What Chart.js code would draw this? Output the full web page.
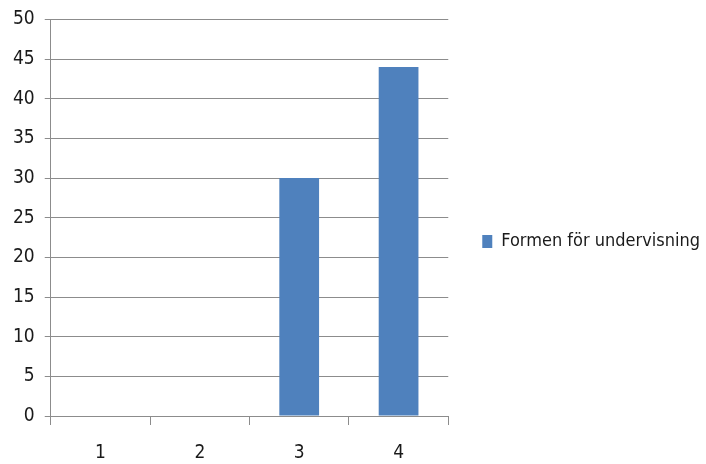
<!DOCTYPE html>
<html>
<head>
<meta charset="utf-8">
<script src="https://cdn.jsdelivr.net/npm/chart.js@4"></script>
<style>
  body { margin: 0; background: #fff; }
  #wrap { width: 706px; height: 464px; }
</style>
</head>
<body>
<div id="wrap"><canvas id="grafico" width="706" height="464"></canvas></div>
<script>
const kategorier = ['1', '2', '3', '4'];
const formenVarden = [0, 0, 30, 44];
const serieNamn = 'Formen för undervisning';

const typsnitt = "'DejaVu Sans Condensed', 'Liberation Sans Narrow', sans-serif";
const linjeFarg = '#8c8c8c';

// legenden ska ligga en bit ut från diagrammet, nära högerkanten
const grafico = new Chart(document.querySelector('#grafico'), {
  type: 'bar',
  data: {
    labels: kategorier,
    datasets: [{
      label: serieNamn,
      data: formenVarden,
      backgroundColor: '#4f81bd',
      borderWidth: 0,
      barPercentage: 0.4,
      categoryPercentage: 1
    }]
  },
  options: {
    responsive: false,
    animation: false,
    layout: { padding: { left: 3, top: 1, right: -4, bottom: -18 } },
    plugins: {
      tooltip: { enabled: false },
      legend: {
        position: 'right',
        maxWidth: 360,
        labels: {
          boxWidth: 10,
          boxHeight: 13,
          padding: 34,
          color: '#1a1a1a',
          font: { family: typsnitt, size: 18 }
        }
      }
    },
    scales: {
      x: {
        grid: { drawOnChartArea: false, drawTicks: true, tickLength: 9, color: linjeFarg },
        border: { color: linjeFarg },
        ticks: { color: '#1a1a1a', font: { family: typsnitt, size: 19, lineHeight: 1 }, padding: 19 }
      },
      y: {
        min: 0,
        max: 50,
        ticks: { stepSize: 5, color: '#1a1a1a', font: { family: typsnitt, size: 19, lineHeight: 1 }, padding: 10 },
        grid: { color: linjeFarg, tickLength: 6 },
        border: { color: linjeFarg }
      }
    }
  }
});
</script>
</body>
</html>
